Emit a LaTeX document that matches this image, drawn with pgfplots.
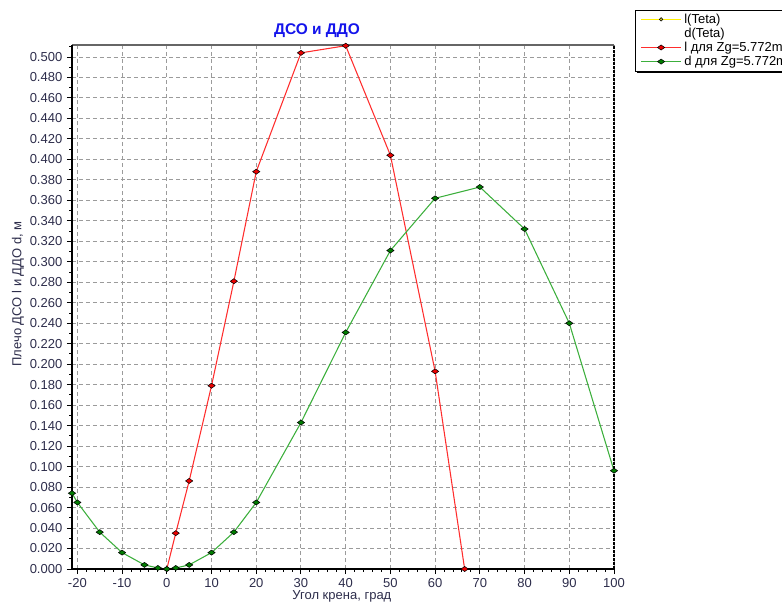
\documentclass[border=0pt]{standalone}
\usepackage{fontspec}
\setmainfont{Liberation Sans}
\usepackage{pgfplots}
\pgfplotsset{compat=1.18}
\usetikzlibrary{backgrounds}

\definecolor{lred}{RGB}{255,45,45}
\definecolor{mred}{RGB}{235,0,0}
\definecolor{lgreen}{RGB}{60,175,60}
\definecolor{mgreen}{RGB}{0,125,0}
\definecolor{gridgray}{RGB}{155,155,155}
\definecolor{ticktxt}{RGB}{45,45,75}
\definecolor{titleblue}{RGB}{20,20,235}
\definecolor{lyellow}{RGB}{255,240,0}

% l and d for Zg=5.772m
\pgfplotstableread{
teta l
0    0.000
2    0.035
5    0.086
10   0.179
15   0.281
20   0.388
30   0.504
40   0.511
50   0.404
60   0.193
66.6 0.000
}\ldata
\pgfplotstableread{
teta d
-21.2 0.074
-20  0.065
-15  0.036
-10  0.016
-5   0.004
-2   0.001
0    0.000
2    0.001
5    0.004
10   0.016
15   0.036
20   0.065
30   0.143
40   0.231
50   0.311
60   0.362
70   0.373
80   0.332
90   0.240
100  0.096
}\ddata

\begin{document}
\begin{tikzpicture}
\useasboundingbox (0,0) rectangle (586.5pt,450.75pt);
\clip (0,0) rectangle (586.5pt,450.75pt);
\begin{axis}[
  at={(54pt,24pt)}, anchor=south west,
  scale only axis, width=406.5pt, height=393pt,
  xmin=-21.2, xmax=100, ymin=0, ymax=0.5117,
  xtick={-20,-10,...,100}, minor x tick num=4,
  ytick={0,0.02,...,0.51}, minor y tick num=1,
  scaled y ticks=false,
  /pgf/number format/assume math mode=true,
  yticklabel style={/pgf/number format/fixed, /pgf/number format/fixed zerofill, /pgf/number format/precision=3},
  ticklabel style={font=\fontsize{9.75}{11}\selectfont, text=ticktxt},
  xticklabel style={yshift=0.5pt},
  tick align=outside, xtick pos=bottom, ytick pos=left,
  major tick length=3.75pt, minor tick length=2.2pt,
  tick style={black, line width=0.7pt},
  grid=major,
  major grid style={gridgray, line width=0.7pt, dash pattern=on 3pt off 2.2pt},
  axis line style={draw=none},
  clip=false,
  xlabel={Угол крена, град},
  ylabel={Плечо ДСО l и ДДО d, м},
  label style={font=\fontsize{9.75}{11}\selectfont, text=ticktxt},
  xlabel style={at={(axis description cs:0.498,-0.053)}, anchor=center},
  ylabel style={at={(axis description cs:-0.0996,0.525)}, anchor=center, rotate=0},
  legend style={name=lgd, at={(axis description cs:1.0387,1.0675)}, anchor=north west,
    draw=black, fill=white,
    font=\fontsize{9.75}{11}\selectfont,
    cells={anchor=west}, inner xsep=4pt, inner ysep=0.8pt, row sep=-2pt},
  legend image code/.code={\draw[mark repeat=2,mark phase=2,#1] plot coordinates {(0pt,0pt) (15pt,0pt) (30pt,0pt)};},
]
\addlegendimage{color=lyellow, line width=0.8pt, mark=*, mark size=1.3pt, mark options={fill=yellow!75!black, draw=black, line width=0.4pt}}
\addlegendentry{l(Teta)}
\addlegendimage{empty legend}
\addlegendentry{d(Teta)}
\addplot[lred, line width=0.8pt, mark=diamond*, mark size=1.9pt,
  mark options={fill=mred, draw=black, line width=0.4pt, xscale=1.9}]
  table[x=teta, y=l] {\ldata};
\addlegendentry{l для Zg=5.772m}
\addplot[lgreen, line width=0.8pt, mark=diamond*, mark size=1.9pt,
  mark options={fill=mgreen, draw=black, line width=0.4pt, xscale=1.9}]
  table[x=teta, y=d] {\ddata};
\addlegendentry{d для Zg=5.772m}
\draw[black!60, line width=1pt] (rel axis cs:0,1) -- (rel axis cs:1,1);
\draw[black, line width=0.9pt, dash pattern=on 2pt off 1pt] (rel axis cs:1,0) -- (rel axis cs:1,1);
\draw[black, line width=1.6pt] (rel axis cs:0,0) -- (rel axis cs:0,1);
\draw[black, line width=1.6pt] (rel axis cs:0,0) -- (rel axis cs:1,0);
\end{axis}
\begin{pgfonlayer}{background}
\fill[black] ([shift={(1.4pt,-1.4pt)}]lgd.south west) rectangle ([shift={(1.4pt,-1.4pt)}]lgd.north east);
\end{pgfonlayer}
\node[font=\fontsize{11.6}{13}\selectfont\bfseries, text=titleblue] at (237.75pt,427.9pt) {ДСО и ДДО};
\end{tikzpicture}
\end{document}
